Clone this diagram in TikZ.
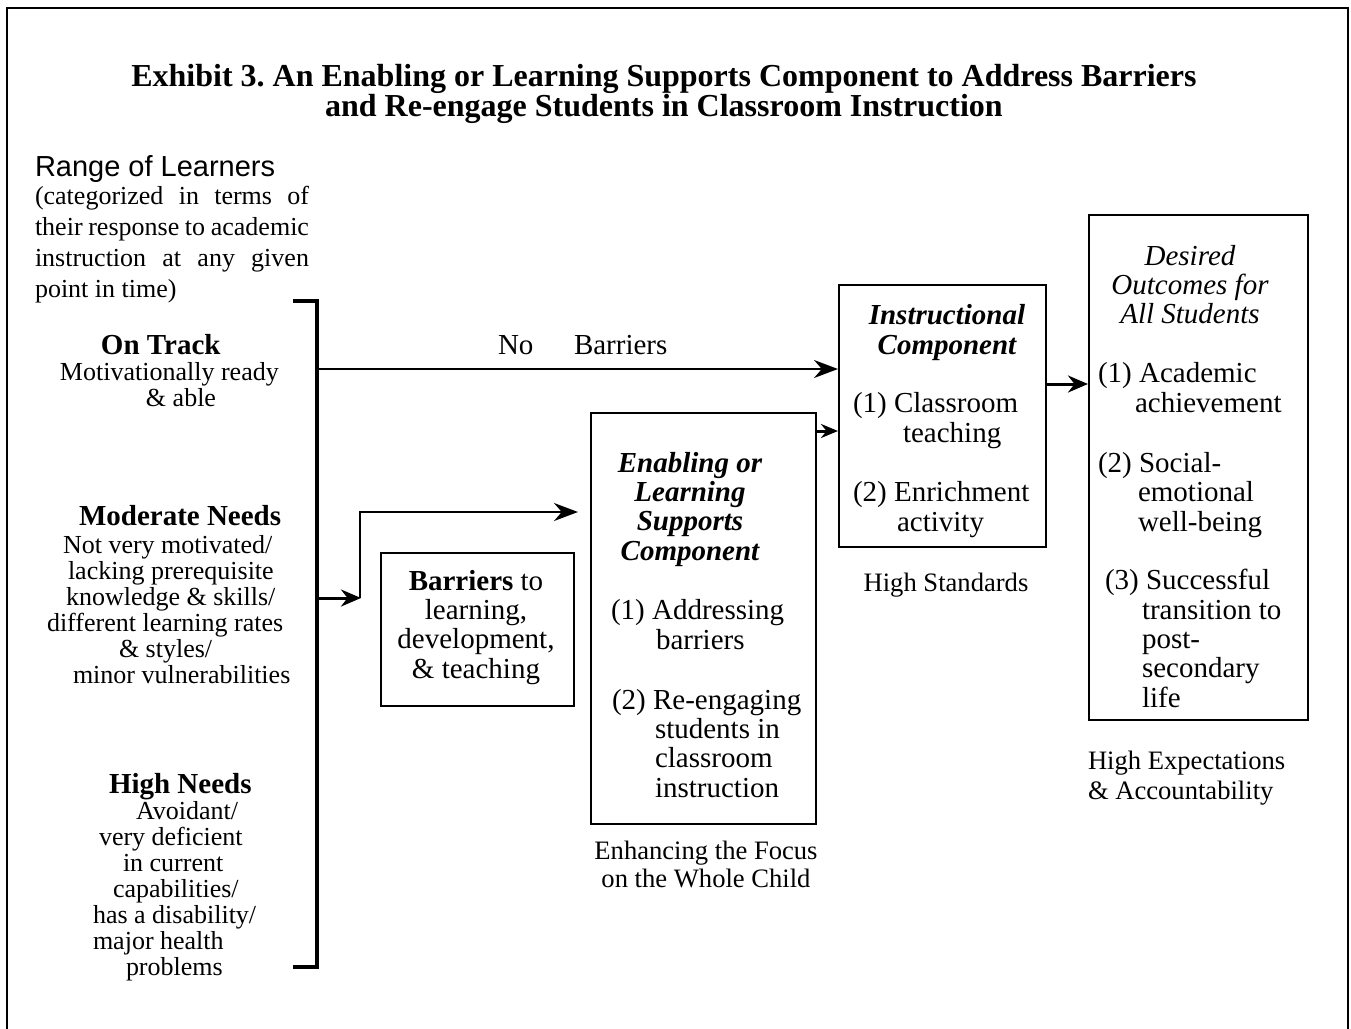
\documentclass[tikz,border=0pt]{standalone}
\usepackage{fontspec}
\setmainfont{Liberation Serif}
\newfontfamily\arialf{Liberation Sans}
\usetikzlibrary{arrows.meta,calc}
\frenchspacing
\begin{document}
\begin{tikzpicture}[x=0.5pt,y=-0.5pt,
  txt/.style={inner sep=0pt, outer sep=0pt},
  bt/.style={txt, font=\fontsize{14.5}{14.65}\selectfont},
  bi/.style={txt, font=\fontsize{14.5}{14.65}\selectfont\bfseries\itshape, align=center, anchor=base},
  lt/.style={txt, font=\fontsize{13}{13}\selectfont, align=left, anchor=base west},
  capt/.style={txt, font=\fontsize{13.3}{14}\selectfont},
  box/.style={draw, line width=1pt, inner sep=0pt, anchor=north west},
  arr/.style={line width=1pt, -{Stealth[length=12pt,width=9pt]}},
  arrT/.style={line width=1.5pt, -{Stealth[length=10pt,width=8.5pt]}},
  arrS/.style={line width=1.5pt, -{Stealth[length=8.5pt,width=7pt]}}]
\useasboundingbox (0,0) rectangle (1351,1029);
% frame
\draw[line width=1.2pt] (7,1045) -- (7,8) -- (1348,8) -- (1348,1045);
% title (anchor = baseline of last line)
\node[txt, font=\fontsize{16}{15}\selectfont\bfseries, align=center, anchor=base] (title) at (664,116)
  {Exhibit 3. An Enabling or Learning Supports Component to Address Barriers\\and Re-engage Students in Classroom Instruction};
% range of learners
\node[txt, font=\arialf\fontsize{14.5}{17}\selectfont, anchor=base west] (range) at (35,176) {Range of Learners};
\node[txt, font=\fontsize{13}{15.5}\selectfont, align=left, anchor=base west] (paren) at (35,297)
  {\makebox[137pt][s]{(categorized in terms of}\\\makebox[137pt][s]{their response to academic}\\\makebox[137pt][s]{instruction at any given}\\point in time)};
% learner groups
\node[lt] (ontrack) at (60,406)
  {\hspace*{20.5pt}\textbf{\fontsize{14.5}{13}\selectfont On Track}\\Motivationally ready\\\hspace*{43pt}\& able};
\node[lt] (moderate) at (47,683)
  {\hspace*{16pt}\textbf{\fontsize{14.5}{13}\selectfont Moderate Needs}\\[1pt]\hspace*{8pt}Not very motivated/\\\hspace*{10.5pt}lacking prerequisite\\\hspace*{9.5pt}knowledge \& skills/\\different learning rates\\\hspace*{36pt}\& styles/\\\hspace*{13pt}minor vulnerabilities};
\node[lt] (high) at (93,975)
  {\hspace*{8pt}\textbf{\fontsize{14.5}{13}\selectfont High Needs}\\\hspace*{21.5pt}Avoidant/\\\hspace*{3pt}very deficient\\\hspace*{15pt}in current\\\hspace*{10pt}capabilities/\\has a disability/\\major health\\\hspace*{16.5pt}problems};
% bracket
\coordinate (brT) at (317,301);
\coordinate (brB) at (317,967);
\draw[line width=1.6pt] (293,301) -- (brT) -- (brB) -- (293,967);
% boxes
\node[box, minimum width=96.5pt, minimum height=76.5pt] (barbox) at (380,552) {};
\node[box, minimum width=112.5pt, minimum height=205.5pt] (enab) at (590,412) {};
\node[box, minimum width=103.5pt, minimum height=131pt] (instr) at (838,284) {};
\node[box, minimum width=109.5pt, minimum height=252.5pt] (out) at (1088,214) {};
% barriers text
\node[bt, align=center, anchor=base] (bartxt) at (476,678)
  {\textbf{Barriers} to\\learning,\\development,\\\& teaching};
% enabling text
\node[bi] (enabttl) at (690,560) {Enabling or\\Learning\\Supports\\Component};
\node[bt, align=left, anchor=base west] (enab1) at (611,649) {(1) Addressing\\\hspace*{22.5pt}barriers};
\node[bt, align=left, anchor=base west] (enab2) at (612,797)
  {(2) Re-engaging\\\hspace*{21.5pt}students in\\\hspace*{21.5pt}classroom\\\hspace*{21.5pt}instruction};
\node[capt, align=center, anchor=base] (enabcap) at (706,887) {Enhancing the Focus\\on the Whole Child};
% instructional text
\node[bi] (instrttl) at (947,354) {Instructional\\Component};
\node[bt, align=left, anchor=base west] (instr1) at (853,442) {(1) Classroom\\\hspace*{25pt}teaching};
\node[bt, align=left, anchor=base west] (instr2) at (853,531) {(2) Enrichment\\\hspace*{22pt}activity};
\node[capt, anchor=base] (instrcap) at (946,591) {High Standards};
% outcomes text
\node[txt, font=\fontsize{14.5}{14.5}\selectfont\itshape, align=center, anchor=base] (outttl) at (1190,323)
  {Desired\\Outcomes for\\All Students};
\node[bt, align=left, anchor=base west] (out1) at (1098,412) {(1) Academic\\\hspace*{18.5pt}achievement};
\node[bt, align=left, anchor=base west] (out2) at (1098,531) {(2) Social-\\\hspace*{20pt}emotional\\\hspace*{20pt}well-being};
\node[bt, align=left, anchor=base west] (out3) at (1105,707)
  {(3) Successful\\\hspace*{18.5pt}transition to\\\hspace*{18.5pt}post-\\\hspace*{18.5pt}secondary\\\hspace*{18.5pt}life};
\node[txt, font=\fontsize{13.3}{15}\selectfont, align=left, anchor=base west] (outcap) at (1088,799) {High Expectations\\\& Accountability};
% no barriers label
\node[bt, anchor=base west] (nolbl) at (498,354) {No};
\node[bt, anchor=base west] (barlbl) at (574,354) {Barriers};
% connectors
\coordinate (nbS) at (318,369);
\draw[arr] (nbS) -- (nbS -| instr.west);
\coordinate (mbS) at (318,598);
\coordinate (mbJ) at (361,598);
\draw[arrT] (mbS) -- (mbJ);
\coordinate (mbU) at (360,512);
\draw[arr, shorten >=6pt] (mbJ -| mbU) -- (mbU) -- (mbU -| enab.west);
\coordinate (eiS) at ($(enab.north east)+(0,19)$);
\draw[arrS] (eiS) -- (eiS -| instr.west);
\coordinate (ioS) at ($(instr.north east)+(0,100)$);
\draw[arrT] (ioS) -- (ioS -| out.west);
\end{tikzpicture}
\end{document}
